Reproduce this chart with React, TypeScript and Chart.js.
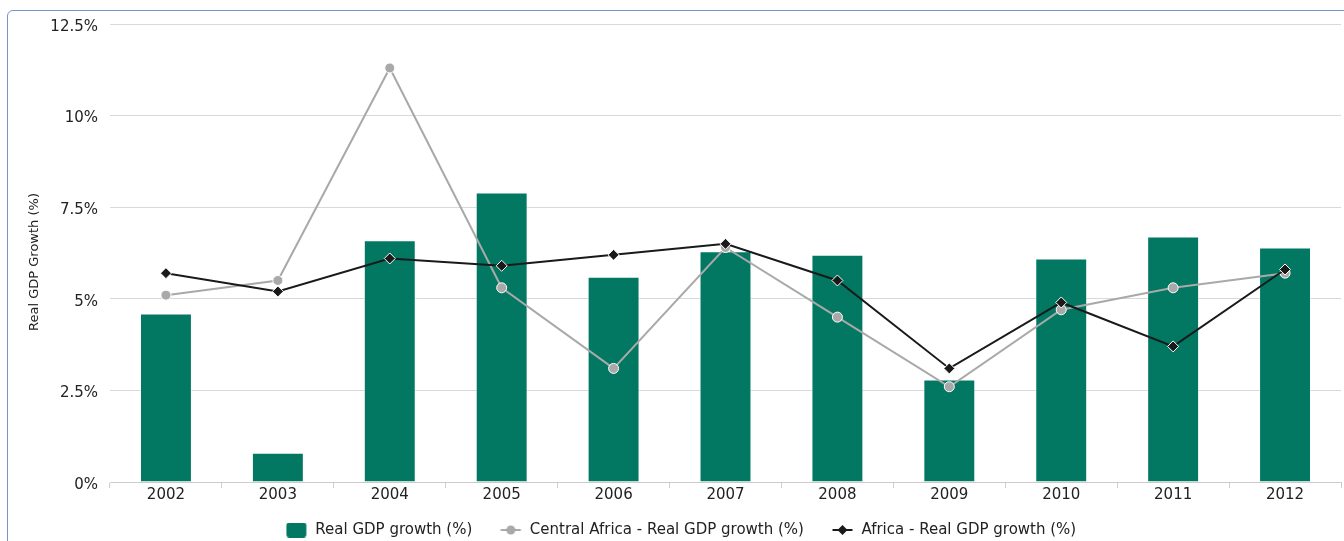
import React, { useEffect, useRef } from "react";
import { Chart, registerables } from "chart.js";

Chart.register(...registerables);

const years = ["2002", "2003", "2004", "2005", "2006", "2007", "2008", "2009", "2010", "2011", "2012"];
const realGdpGrowth = [4.6, 0.8, 6.6, 7.9, 5.6, 6.3, 6.2, 2.8, 6.1, 6.7, 6.4];
const centralAfricaGrowth = [5.1, 5.5, 11.3, 5.3, 3.1, 6.4, 4.5, 2.6, 4.7, 5.3, 5.7];
const africaGrowth = [5.7, 5.2, 6.1, 5.9, 6.2, 6.5, 5.5, 3.1, 4.9, 3.7, 5.8];
const yTickValues = [0, 2.5, 5, 7.5, 10, 12.5];
const seriesNames = [
  "Real GDP growth (%)",
  "Central Africa - Real GDP growth (%)",
  "Africa - Real GDP growth (%)",
];
const yAxisTitle = "Real GDP Growth (%)";

const GREEN = "#027762";
const GRAY = "#a9a9a9";
const BLACK = "#1a1a1a";
const TEXT = "#222222";
const FONT = "'DejaVu Sans', sans-serif";

function makeBarIcon(): HTMLCanvasElement {
  const c = document.createElement("canvas");
  c.width = 22;
  c.height = 15;
  const ctx = c.getContext("2d")!;
  ctx.fillStyle = GREEN;
  ctx.beginPath();
  (ctx as any).roundRect(0.5, 0, 20, 15, 3);
  ctx.fill();
  return c;
}

function makeLineIcon(color: string, marker: "circle" | "diamond"): HTMLCanvasElement {
  const c = document.createElement("canvas");
  c.width = 22;
  c.height = 12;
  const ctx = c.getContext("2d")!;
  ctx.strokeStyle = color;
  ctx.lineWidth = 2;
  ctx.beginPath();
  ctx.moveTo(0.5, 6);
  ctx.lineTo(20.5, 6);
  ctx.stroke();
  ctx.fillStyle = color;
  ctx.beginPath();
  if (marker === "circle") {
    ctx.arc(10.5, 6, 4.5, 0, Math.PI * 2);
  } else {
    ctx.moveTo(10.5, 1);
    ctx.lineTo(15.5, 6);
    ctx.lineTo(10.5, 11);
    ctx.lineTo(5.5, 6);
    ctx.closePath();
  }
  ctx.fill();
  return c;
}

// Moves the legend up so it sits close to the axis labels, and draws the y-axis title
const layoutTweaks = {
  id: "layoutTweaks",
  afterLayout(chart: any) {
    const l = chart.legend;
    if (l) {
      l.top -= 21.5;
      l.bottom -= 21.5;
    }
  },
  afterDraw(chart: any) {
    const ctx = chart.ctx;
    ctx.save();
    ctx.translate(34.5, 262);
    ctx.rotate(-Math.PI / 2);
    ctx.font = `13px ${FONT}`;
    ctx.fillStyle = TEXT;
    ctx.textAlign = "center";
    ctx.textBaseline = "middle";
    ctx.fillText(yAxisTitle, 0, 0);
    ctx.restore();
  },
};

export default function App() {
  const ref = useRef<HTMLCanvasElement | null>(null);

  useEffect(() => {
    if (!ref.current) return;
    const icons = [makeBarIcon(), makeLineIcon(GRAY, "circle"), makeLineIcon(BLACK, "diamond")];
    const chart = new Chart(ref.current, {
      type: "bar",
      data: {
        labels: years,
        datasets: [
          {
            type: "line",
            label: seriesNames[2],
            data: africaGrowth,
            borderColor: BLACK,
            backgroundColor: BLACK,
            borderWidth: 2,
            pointStyle: "rectRot",
            pointRadius: 5.5,
            pointBorderColor: "#ffffff",
            pointBorderWidth: 1,
            pointBackgroundColor: BLACK,
            tension: 0,
            order: 1,
          } as any,
          {
            type: "line",
            label: seriesNames[1],
            data: centralAfricaGrowth,
            borderColor: GRAY,
            backgroundColor: GRAY,
            borderWidth: 2,
            pointStyle: "circle",
            pointRadius: 5,
            pointBorderColor: "#ffffff",
            pointBorderWidth: 1,
            pointBackgroundColor: GRAY,
            tension: 0,
            order: 2,
          } as any,
          {
            type: "bar",
            label: seriesNames[0],
            data: realGdpGrowth,
            backgroundColor: GREEN,
            borderColor: "rgba(255,255,255,0.55)",
            borderWidth: 1,
            categoryPercentage: 1,
            barPercentage: 0.464,
            order: 3,
          } as any,
        ],
      },
      options: {
        animation: false,
        responsive: false,
        devicePixelRatio: 1,
        layout: { padding: { left: 21, right: 7, top: 24, bottom: 0 } },
        scales: {
          x: {
            offset: true,
            grid: {
              drawOnChartArea: false,
              drawTicks: true,
              tickLength: 6,
              color: "#cccccc",
              offset: true,
            },
            border: { display: true, color: "#cccccc", width: 1 },
            ticks: {
              color: TEXT,
              font: { family: FONT, size: 15 },
              padding: -2,
              maxRotation: 0,
            },
            afterFit: (s: any) => {
              s.height = 34;
            },
          },
          y: {
            min: 0,
            max: 12.5,
            grid: { color: "#d9d9d9", drawTicks: false, lineWidth: 1 },
            border: { display: false },
            ticks: {
              color: TEXT,
              font: { family: FONT, size: 15 },
              padding: 12,
              labelOffset: 3,
              callback: (v: any) => `${v}%`,
            },
            afterBuildTicks: (s: any) => {
              s.ticks = yTickValues.map((v) => ({ value: v }));
            },
            title: { display: false, text: yAxisTitle },
            afterFit: (s: any) => {
              s.width = 89;
            },
          },
        },
        plugins: {
          legend: {
            position: "bottom",
            labels: {
              usePointStyle: true,
              pointStyleWidth: 22,
              padding: 28,
              color: TEXT,
              font: { family: FONT, size: 15 },
              generateLabels: (ch: any) => {
                const base = Chart.defaults.plugins.legend.labels.generateLabels(ch);
                const ordered = [base[2], base[1], base[0]];
                return ordered.map((item: any, i: number) => ({
                  ...item,
                  pointStyle: icons[i],
                  lineWidth: 0,
                }));
              },
            },
          },
          tooltip: { enabled: false },
        },
      },
      plugins: [layoutTweaks],
    });
    return () => chart.destroy();
  }, []);

  return (
    <div
      style={{
        position: "absolute",
        left: 0,
        top: 0,
        width: 1344,
        height: 541,
        overflow: "hidden",
        background: "#ffffff",
      }}
    >
      <div
        style={{
          position: "absolute",
          left: 7,
          top: 10,
          width: 1400,
          height: 600,
          border: "1px solid #7495c6",
          borderRadius: 6,
        }}
      />
      <canvas
        ref={ref}
        width={1348}
        height={569}
        style={{ position: "absolute", left: 0, top: 0, width: 1348, height: 569 }}
      />
    </div>
  );
}
